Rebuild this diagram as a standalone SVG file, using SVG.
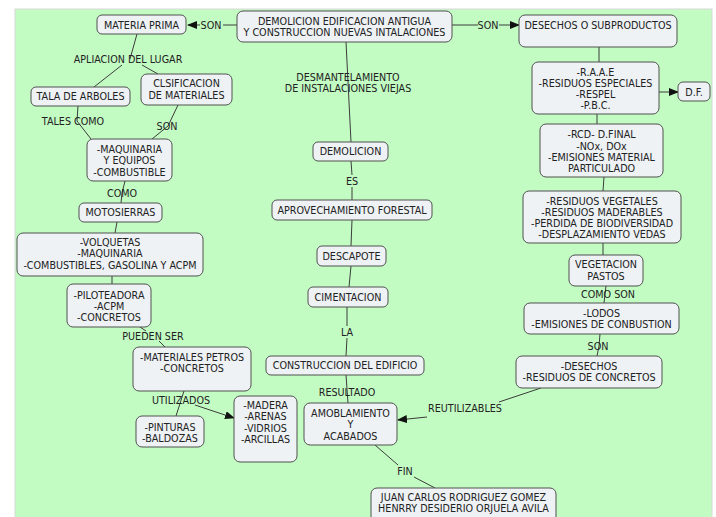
<svg xmlns="http://www.w3.org/2000/svg" width="716" height="517" viewBox="0 0 716 517">
<defs>
<style>
.bg{fill:#c3fcc3}
.n rect{fill:#eef2f5;stroke:#505050;stroke-width:1}
text{font-family:"DejaVu Sans",Verdana,sans-serif;font-size:9.6px;fill:#222;text-anchor:middle;dominant-baseline:central}
.c line,.c polyline{stroke:#3c3c3c;stroke-width:1;fill:none}
</style>
<marker id="ah" markerWidth="10" markerHeight="8" refX="9" refY="4" orient="auto" markerUnits="userSpaceOnUse">
<path d="M0,0 L10,4 L0,8 Z" fill="#111"/>
</marker>
</defs>
<rect x="0" y="0" width="716" height="517" fill="#ffffff"/>
<rect class="bg" x="15" y="9" width="697" height="510" stroke="#d8d8d8" stroke-width="1"/>

<g class="c" id="connectors">
<line x1="237" y1="25" x2="223" y2="25"/>
<line x1="200" y1="25" x2="188" y2="25" marker-end="url(#ah)"/>
<line x1="452" y1="25" x2="478" y2="25"/>
<line x1="499" y1="25" x2="519" y2="25" marker-end="url(#ah)"/>
<line x1="599" y1="47" x2="599" y2="62"/>
<line x1="659" y1="92" x2="678" y2="92" marker-end="url(#ah)"/>
<line x1="597" y1="114" x2="597" y2="124"/>
<line x1="604" y1="177" x2="603" y2="191"/>
<line x1="603" y1="243" x2="603" y2="255"/>
<polyline points="606,286 605,294 604,303"/>
<polyline points="600,334 599,346 597,356"/>
<line x1="541" y1="388" x2="499" y2="402"/>
<line x1="427" y1="417" x2="398" y2="420" marker-end="url(#ah)"/>
<polyline points="346,42 348,82 351,142"/>
<line x1="351" y1="161" x2="352" y2="175"/>
<line x1="352" y1="187" x2="352" y2="200"/>
<line x1="352" y1="220" x2="351" y2="246"/>
<line x1="351" y1="266" x2="349" y2="287"/>
<line x1="347" y1="307" x2="347" y2="326"/>
<line x1="347" y1="338" x2="346" y2="356"/>
<line x1="346" y1="375" x2="348" y2="403"/>
<line x1="375" y1="445" x2="398" y2="465"/>
<line x1="414" y1="477" x2="435" y2="488"/>
<polyline points="137,34 130,59"/>
<line x1="122" y1="65" x2="94" y2="87"/>
<line x1="142" y1="65" x2="158" y2="74"/>
<polyline points="78,106 77,121 91,139"/>
<polyline points="178,105 168,126 152,139"/>
<polyline points="125,181 122,193 121,203"/>
<line x1="117" y1="222" x2="115" y2="233"/>
<line x1="112" y1="276" x2="112" y2="284"/>
<line x1="140" y1="327" x2="146" y2="331"/>
<line x1="159" y1="341" x2="165" y2="347"/>
<line x1="184" y1="391" x2="176" y2="416"/>
<line x1="195" y1="405" x2="234" y2="418" marker-end="url(#ah)"/>
</g>

<g id="labels">
<text x="211" y="25">SON</text>
<text x="488" y="25">SON</text>
<text x="348" y="77">DESMANTELAMIENTO</text>
<text x="348" y="88">DE INSTALACIONES VIEJAS</text>
<text x="352" y="181">ES</text>
<text x="347" y="332">LA</text>
<text x="347" y="392">RESULTADO</text>
<text x="405" y="471">FIN</text>
<text x="465" y="408">REUTILIZABLES</text>
<text x="608" y="294">COMO SON</text>
<text x="598" y="346">SON</text>
<text x="128" y="59">APLIACION DEL LUGAR</text>
<text x="73" y="121">TALES COMO</text>
<text x="167" y="126">SON</text>
<text x="122" y="193">COMO</text>
<text x="153" y="336">PUEDEN SER</text>
<text x="181" y="400">UTILIZADOS</text>
</g>

<g class="n" id="n-main"><rect x="237" y="11" width="215" height="31" rx="6"/><text x="344.5" y="21">DEMOLICION EDIFICACION ANTIGUA</text><text x="344.5" y="32">Y CONSTRUCCION NUEVAS INTALACIONES</text></g>
<g class="n" id="n-materia"><rect x="97" y="15" width="89" height="19" rx="5"/><text x="141.5" y="25">MATERIA PRIMA</text></g>
<g class="n" id="n-desechos"><rect x="519" y="15" width="158" height="32" rx="6"/><text x="598" y="25">DESECHOS O SUBPRODUCTOS</text></g>
<g class="n" id="n-raae"><rect x="532" y="62" width="127" height="52" rx="6"/><text x="595.5" y="72">-R.A.A.E</text><text x="595.5" y="83">-RESIDUOS ESPECIALES</text><text x="595.5" y="94">-RESPEL</text><text x="595.5" y="105">-P.B.C.</text></g>
<g class="n" id="n-df"><rect x="678" y="82" width="32" height="19" rx="5"/><text x="694" y="92">D.F.</text></g>
<g class="n" id="n-rcd"><rect x="540" y="124" width="123" height="53" rx="6"/><text x="601.5" y="134">-RCD- D.FINAL</text><text x="601.5" y="146">-NOx, DOx</text><text x="601.5" y="157">-EMISIONES MATERIAL</text><text x="601.5" y="168">PARTICULADO</text></g>
<g class="n" id="n-vegetales"><rect x="523" y="191" width="158" height="52" rx="6"/><text x="602" y="201">-RESIDUOS VEGETALES</text><text x="602" y="212">-RESIDUOS MADERABLES</text><text x="602" y="223">-PERDIDA DE BIODIVERSIDAD</text><text x="602" y="234">-DESPLAZAMIENTO VEDAS</text></g>
<g class="n" id="n-vegetacion"><rect x="569" y="255" width="74" height="31" rx="6"/><text x="606" y="264">VEGETACION</text><text x="606" y="276">PASTOS</text></g>
<g class="n" id="n-lodos"><rect x="524" y="303" width="155" height="31" rx="6"/><text x="601.5" y="313">-LODOS</text><text x="601.5" y="324">-EMISIONES DE CONBUSTION</text></g>
<g class="n" id="n-desechos2"><rect x="516" y="356" width="146" height="32" rx="6"/><text x="589" y="366">-DESECHOS</text><text x="589" y="377">-RESIDUOS DE CONCRETOS</text></g>
<g class="n" id="n-amoblamiento"><rect x="304" y="403" width="93" height="42" rx="6"/><text x="350.5" y="413">AMOBLAMIENTO</text><text x="350.5" y="424">Y</text><text x="350.5" y="436">ACABADOS</text></g>
<g class="n" id="n-juan"><rect x="371" y="488" width="185" height="34" rx="6"/><text x="463.5" y="497">JUAN CARLOS RODRIGUEZ GOMEZ</text><text x="463.5" y="508">HENRRY DESIDERIO ORJUELA AVILA</text></g>
<g class="n" id="n-construccion"><rect x="266" y="356" width="158" height="19" rx="5"/><text x="345" y="365.5">CONSTRUCCION DEL EDIFICIO</text></g>
<g class="n" id="n-cimentacion"><rect x="308" y="287" width="80" height="20" rx="5"/><text x="348" y="297">CIMENTACION</text></g>
<g class="n" id="n-descapote"><rect x="317" y="246" width="69" height="20" rx="5"/><text x="351.5" y="256">DESCAPOTE</text></g>
<g class="n" id="n-aprovechamiento"><rect x="272" y="200" width="160" height="20" rx="5"/><text x="352" y="210">APROVECHAMIENTO FORESTAL</text></g>
<g class="n" id="n-demolicion"><rect x="313" y="142" width="75" height="19" rx="5"/><text x="350.5" y="151.5">DEMOLICION</text></g>
<g class="n" id="n-tala"><rect x="31" y="87" width="99" height="19" rx="5"/><text x="80.5" y="96.5">TALA DE ARBOLES</text></g>
<g class="n" id="n-clsificacion"><rect x="141" y="74" width="91" height="31" rx="6"/><text x="186.5" y="83">CLSIFICACION</text><text x="186.5" y="95">DE MATERIALES</text></g>
<g class="n" id="n-maquinaria"><rect x="87" y="139" width="85" height="42" rx="6"/><text x="129.5" y="149">-MAQUINARIA</text><text x="129.5" y="160">Y EQUIPOS</text><text x="129.5" y="172">-COMBUSTIBLE</text></g>
<g class="n" id="n-motosierras"><rect x="79" y="203" width="83" height="19" rx="5"/><text x="120.5" y="212.5">MOTOSIERRAS</text></g>
<g class="n" id="n-volquetas"><rect x="17" y="233" width="186" height="43" rx="6"/><text x="110" y="242">-VOLQUETAS</text><text x="110" y="253">-MAQUINARIA</text><text x="110" y="265">-COMBUSTIBLES, GASOLINA Y ACPM</text></g>
<g class="n" id="n-piloteadora"><rect x="67" y="284" width="84" height="43" rx="6"/><text x="109" y="295">-PILOTEADORA</text><text x="109" y="306">-ACPM</text><text x="109" y="317">-CONCRETOS</text></g>
<g class="n" id="n-materiales"><rect x="133" y="347" width="118" height="44" rx="6"/><text x="192" y="357">-MATERIALES PETROS</text><text x="192" y="368">-CONCRETOS</text></g>
<g class="n" id="n-pinturas"><rect x="136" y="416" width="68" height="31" rx="6"/><text x="170" y="427">-PINTURAS</text><text x="170" y="438">-BALDOZAS</text></g>
<g class="n" id="n-madera"><rect x="234" y="396" width="63" height="66" rx="6"/><text x="265.5" y="405">-MADERA</text><text x="265.5" y="416">-ARENAS</text><text x="265.5" y="428">-VIDRIOS</text><text x="265.5" y="439">-ARCILLAS</text></g>
</svg>
